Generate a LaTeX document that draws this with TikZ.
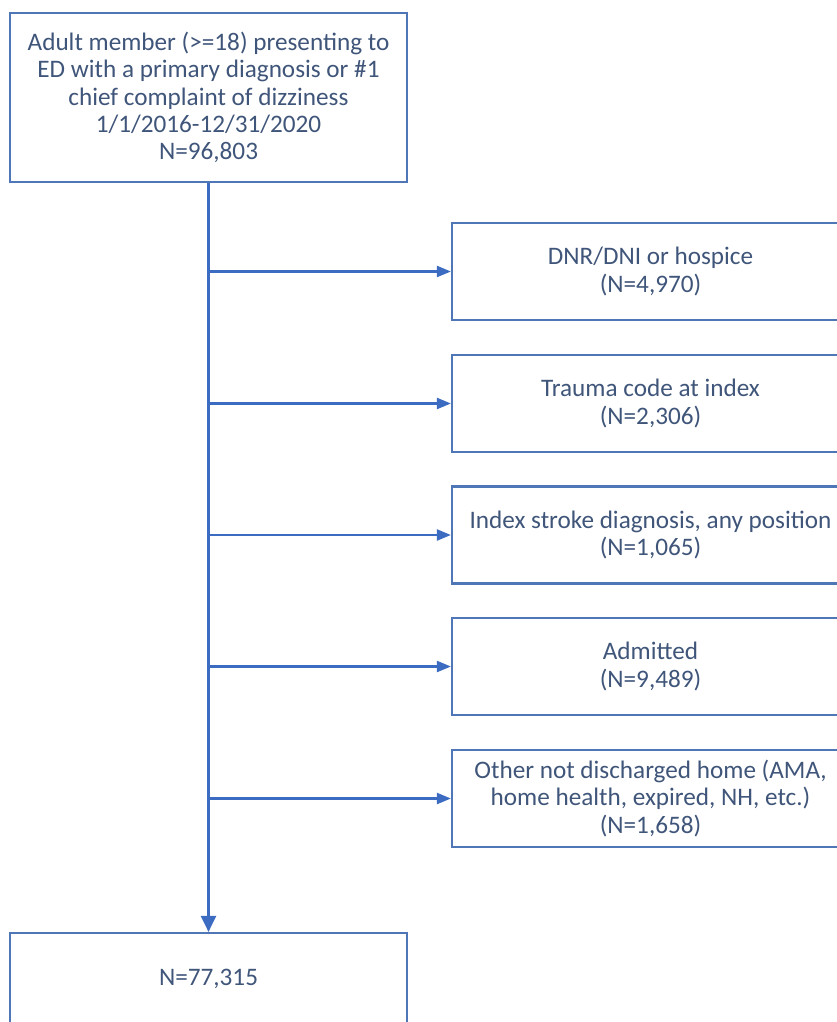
\documentclass[tikz,border=0pt]{standalone}
\usepackage{fontspec}
\setmainfont{Carlito}
\usetikzlibrary{arrows.meta}
\definecolor{boxblue}{HTML}{4F76B6}
\definecolor{lineblue}{HTML}{3C6CC2}
\definecolor{textblue}{HTML}{3F5579}

\begin{document}
\begin{tikzpicture}[x=0.5pt,y=-0.5pt,>={Triangle[length=7pt,width=5.5pt]}]
\tikzset{every node/.style={draw=boxblue,line width=1.1pt,rectangle,align=center,
  text=textblue,font=\fontsize{12.6}{13.7}\selectfont,inner sep=0pt}}
\tikzset{mainbox/.style={minimum width=198.5pt,minimum height=84.5pt}}
\tikzset{sidebox/.style={minimum width=198.5pt,minimum height=48.5pt}}
\tikzset{flow/.style={draw=lineblue,line width=1.1pt}}
\useasboundingbox (0,0) rectangle (836,1022);

\node[mainbox] (start) at (208.5,97.5) {Adult member (>=18) presenting to\\
ED with a primary diagnosis or \#1\\ chief complaint of dizziness\\
1/1/2016-12/31/2020\\ N=96,803};
\node[mainbox,minimum height=45.5pt] (final) at (208.5,978.5) {N=77,315};

\node[sidebox] (dnr) at (650.5,271.5) {DNR/DNI or hospice\\ (N=4,970)};
\node[sidebox] (trauma) at (650.5,403.5) {Trauma code at index\\ (N=2,306)};
\node[sidebox] (stroke) at (650.5,535) {Index stroke diagnosis, any position\\ (N=1,065)};
\node[sidebox] (admit) at (650.5,666.5) {Admitted\\ (N=9,489)};
\node[sidebox] (other) at (650.5,798.5) {Other not discharged home (AMA,\\
home health, expired, NH, etc.)\\ (N=1,658)};

% trunk
\draw[flow,-{Triangle[length=8pt,width=7.5pt]}] (start.south) -- (final.north);

% exclusions
\foreach \b in {dnr,trauma,stroke,admit,other}
  \draw[flow,->] (start.south |- \b.west) -- (\b.west);

\end{tikzpicture}
\end{document}
